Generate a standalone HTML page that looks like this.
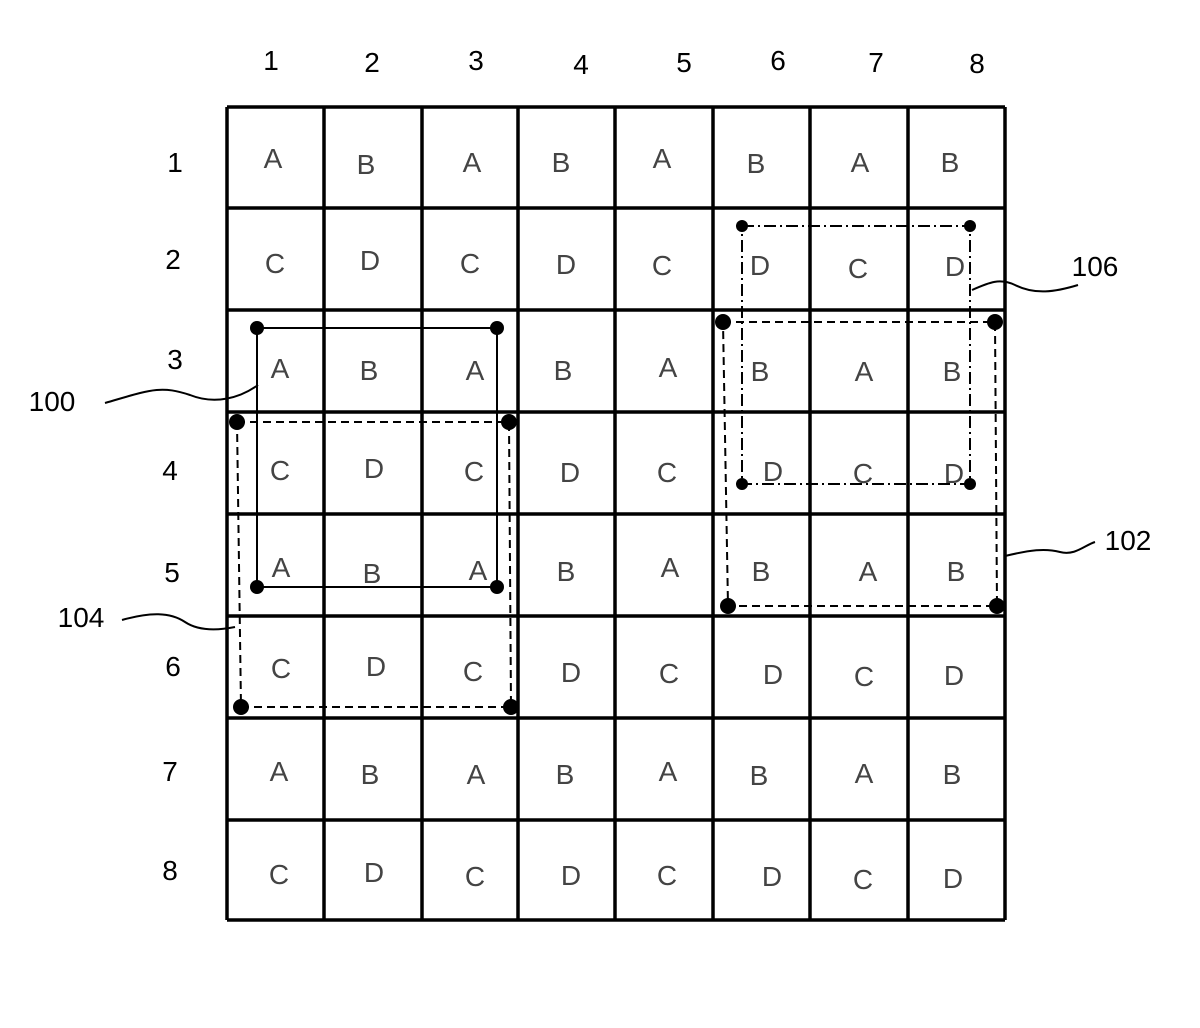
<!DOCTYPE html>
<html><head><style>body{margin:0;background:#fff}</style></head><body>
<svg width="1200" height="1023" xmlns="http://www.w3.org/2000/svg" font-family="Liberation Sans, sans-serif">
<rect width="1200" height="1023" fill="#fff"/>
<g font-size="28" fill="#000" text-anchor="middle">
<text x="271" y="70">1</text><text x="372" y="72">2</text><text x="476" y="70">3</text><text x="581" y="74">4</text><text x="684" y="72">5</text><text x="778" y="70">6</text><text x="876" y="72">7</text><text x="977" y="73">8</text>
<text x="175" y="172">1</text><text x="173" y="269">2</text><text x="175" y="369">3</text><text x="170" y="480">4</text><text x="172" y="582">5</text><text x="173" y="676">6</text><text x="170" y="781">7</text><text x="170" y="880">8</text>
<text x="52" y="411">100</text><text x="81" y="627">104</text><text x="1128" y="550">102</text><text x="1095" y="276">106</text>
</g>
<g stroke="#000" stroke-width="3.5">
<path d="M227 107V920M324 107V920M422 107V920M518 107V920M615 107V920M713 107V920M810 107V920M908 107V920M1005 107V920"/>
<path d="M227 107H1005M227 208H1005M227 310H1005M227 412H1005M227 514H1005M227 616H1005M227 718H1005M227 820H1005M227 920H1005"/>
</g>
<g font-size="28" fill="#444" text-anchor="middle">
<g id="r"></g>
<text x="273" y="168">A</text><text x="366" y="174">B</text><text x="472" y="172">A</text><text x="561" y="172">B</text><text x="662" y="168">A</text><text x="756" y="173">B</text><text x="860" y="172">A</text><text x="950" y="172">B</text>
<text x="275" y="273">C</text><text x="370" y="270">D</text><text x="470" y="273">C</text><text x="566" y="274">D</text><text x="662" y="275">C</text><text x="760" y="275">D</text><text x="858" y="278">C</text><text x="955" y="276">D</text>
<text x="280" y="378">A</text><text x="369" y="380">B</text><text x="475" y="380">A</text><text x="563" y="380">B</text><text x="668" y="377">A</text><text x="760" y="381">B</text><text x="864" y="381">A</text><text x="952" y="381">B</text>
<text x="280" y="480">C</text><text x="374" y="478">D</text><text x="474" y="481">C</text><text x="570" y="482">D</text><text x="667" y="482">C</text><text x="773" y="481">D</text><text x="863" y="483">C</text><text x="954" y="483">D</text>
<text x="281" y="577">A</text><text x="372" y="583">B</text><text x="478" y="580">A</text><text x="566" y="581">B</text><text x="670" y="577">A</text><text x="761" y="581">B</text><text x="868" y="581">A</text><text x="956" y="581">B</text>
<text x="281" y="678">C</text><text x="376" y="676">D</text><text x="473" y="681">C</text><text x="571" y="682">D</text><text x="669" y="683">C</text><text x="773" y="684">D</text><text x="864" y="686">C</text><text x="954" y="685">D</text>
<text x="279" y="781">A</text><text x="370" y="784">B</text><text x="476" y="784">A</text><text x="565" y="784">B</text><text x="668" y="781">A</text><text x="759" y="785">B</text><text x="864" y="783">A</text><text x="952" y="784">B</text>
<text x="279" y="884">C</text><text x="374" y="882">D</text><text x="475" y="886">C</text><text x="571" y="885">D</text><text x="667" y="885">C</text><text x="772" y="886">D</text><text x="863" y="889">C</text><text x="953" y="888">D</text>
</g>
<g fill="none" stroke="#000" stroke-width="2">
<path d="M257 328H497V587H257Z"/>
<path d="M237 422H509L511 707H241Z" stroke-dasharray="8 5"/>
<path d="M723 322H995L997 606H728Z" stroke-dasharray="8 5"/>
<path d="M742 226H970V484H742Z" stroke-dasharray="12 4 2 4"/>
<path d="M105 403C150 390 160 385 190 395C215 405 240 398 258 385"/>
<path d="M122 620C150 612 170 612 185 622C200 632 220 630 235 627"/>
<path d="M1005 556C1030 550 1045 548 1060 552C1075 556 1085 545 1095 542"/>
<path d="M972 290C990 282 1000 278 1015 285C1035 295 1055 292 1078 285"/>
</g>
<g fill="#000">
<circle cx="257" cy="328" r="7"/><circle cx="497" cy="328" r="7"/><circle cx="257" cy="587" r="7"/><circle cx="497" cy="587" r="7"/>
<circle cx="237" cy="422" r="8"/><circle cx="509" cy="422" r="8"/><circle cx="241" cy="707" r="8"/><circle cx="511" cy="707" r="8"/>
<circle cx="723" cy="322" r="8"/><circle cx="995" cy="322" r="8"/><circle cx="728" cy="606" r="8"/><circle cx="997" cy="606" r="8"/>
<circle cx="742" cy="226" r="6"/><circle cx="970" cy="226" r="6"/><circle cx="742" cy="484" r="6"/><circle cx="970" cy="484" r="6"/>
</g>
</svg>
</body></html>
